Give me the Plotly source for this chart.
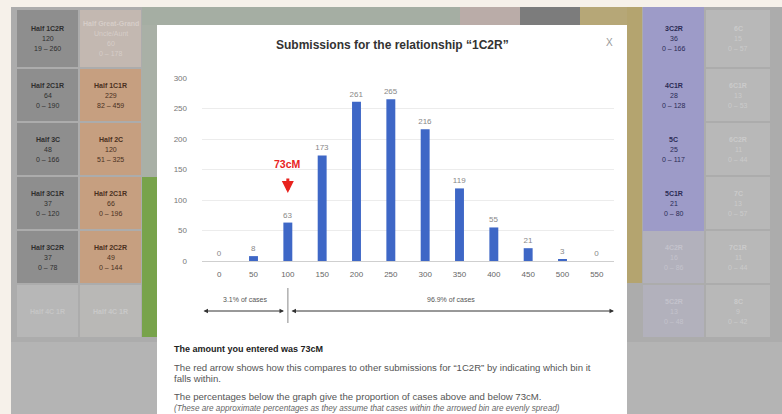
import plotly.graph_objects as go

# ---- data ----
bins = ["0", "50", "100", "150", "200", "250", "300", "350", "400", "450", "500", "550"]
counts = [0, 8, 63, 173, 261, 265, 216, 119, 55, 21, 3, 0]
entered_bin = "100"
entered_label = "73cM"
pct_below = "3.1% of cases"
pct_above = "96.9% of cases"
y_ticks = [0, 50, 100, 150, 200, 250, 300]

W, H = 782, 414
L, R, T, B = 202, 168, 78, 153
PW, PH = W - L - R, H - T - B


def px(x):
    return (x - L) / PW


def py(y):
    return (H - B - y) / PH


FONT = "Liberation Sans, Arial, sans-serif"
shapes = []
annots = []
ENTER_IDX = bins.index(entered_bin)


def rect(x0, y0, x1, y1, fill, line=None):
    shapes.append(dict(type="rect", xref="paper", yref="paper", layer="below",
                       x0=px(x0), x1=px(x1), y0=py(y1), y1=py(y0),
                       fillcolor=fill, line=dict(width=0 if line is None else 1,
                                                 color=line or fill)))


def text(x, y, s, size=8, color="#444", bold=False, italic=False, anchor="center"):
    if bold:
        s = "<b>" + s + "</b>"
    if italic:
        s = "<i>" + s + "</i>"
    annots.append(dict(x=px(x), y=py(y), xref="paper", yref="paper", text=s,
                       showarrow=False, xanchor=anchor, yanchor="middle",
                       font=dict(family=FONT, size=size, color=color)))


def tile(x0, y0, x1, y1, fill, lines, color):
    rect(x0, y0, x1, y1, fill)
    cx = (x0 + x1) / 2
    cy = (y0 + y1) / 2
    n = len(lines)
    for i, s in enumerate(lines):
        yy = cy + (i - (n - 1) / 2) * 10
        text(cx, yy, s, size=7, color=color, bold=(i == 0))


# ---- page background ----
rect(0, 0, W, H, "#f6f1ea")
rect(11, 7, W, H, "#acacac")
rect(11, 342, W, H, "#b4b4b4")

rows = [(10, 67), (69, 121), (123, 175), (177, 229), (231, 283), (285, 337)]
left_grey = [["Half 1C2R", "120", "19 – 260"], ["Half 2C1R", "64", "0 – 190"],
             ["Half 3C", "48", "0 – 166"], ["Half 3C1R", "37", "0 – 120"],
             ["Half 3C2R", "37", "0 – 78"]]
for (y0, y1), ln in zip(rows, left_grey):
    tile(17, y0, 78, y1, "#8e8e8e", ln, "#2f2f2f")
tile(17, 285, 78, 337, "#b7b7b7", ["Half 4C 1R"], "#c6c6c6")

tile(80, 10, 141, 67, "#c3b8b1", ["Half Great-Grand", "Uncle/Aunt", "60", "0 – 178"], "#d6cdc8")
orange = [["Half 1C1R", "229", "82 – 459"], ["Half 2C", "120", "51 – 325"],
          ["Half 2C1R", "66", "0 – 196"], ["Half 2C2R", "49", "0 – 144"]]
for (y0, y1), ln in zip(rows[1:5], orange):
    tile(80, y0, 141, y1, "#c69f80", ln, "#4a3020")
tile(80, 285, 141, 337, "#b9b8b6", ["Half 4C 1R"], "#c9c9c9")

rect(142, 7, 157, 177, "#a9b0a6")
rect(142, 177, 157, 337, "#78a34b")
rect(142, 7, 460, 25, "#a5aea3")
rect(460, 7, 520, 25, "#baaca8")
rect(520, 7, 580, 25, "#7c7c7c")
rect(580, 7, 642, 25, "#b6a777")
rect(627, 7, 642, 283, "#b4a46f")

purple = [["3C2R", "36", "0 – 166"], ["4C1R", "28", "0 – 128"],
          ["5C", "25", "0 – 117"], ["5C1R", "21", "0 – 80"]]
rect(643, 7, 704, 231, "#9d9bc8")
for (y0, y1), ln in zip(rows[:4], purple):
    tile(643, y0, 704, y1, "#9d9bc8", ln, "#2b2b55")
tile(643, 231, 704, 283, "#b2b1bc", ["4C2R", "16", "0 – 86"], "#c4c3cc")
tile(643, 285, 704, 337, "#b2b1bc", ["5C2R", "13", "0 – 48"], "#c4c3cc")
right_faint = [["6C", "15", "0 – 57"], ["6C1R", "13", "0 – 53"], ["6C2R", "11", "0 – 44"],
               ["7C", "13", "0 – 57"], ["7C1R", "11", "0 – 44"], ["8C", "9", "0 – 42"]]
for (y0, y1), ln in zip(rows, right_faint):
    tile(706, y0, 770, y1, "#b8b8b8", ln, "#cbcbcb")

# ---- modal ----
rect(157, 25, 627, 420, "#ffffff")
text(392, 45, "Submissions for the relationship “1C2R”", size=12, color="#333", bold=True)
text(609, 42, "X", size=10, color="#999")

# red marker
annots.append(dict(x=ENTER_IDX, y=py(164), xref="x", yref="paper", showarrow=False,
                   text="<b>" + entered_label + "</b>", yanchor="middle",
                   font=dict(family=FONT, size=10.5, color="#e8231e")))
annots.append(dict(x=ENTER_IDX, y=py(193), xref="x", yref="paper", text="",
                   showarrow=True, ax=0, ay=-16, arrowcolor="#e8231e",
                   arrowwidth=3, arrowhead=2, arrowsize=0.8))

# divider and range arrows
shapes.append(dict(type="line", xref="x", yref="paper", x0=ENTER_IDX, x1=ENTER_IDX,
                   y0=py(288), y1=py(323), line=dict(color="#b0b0b0", width=1.5)))
for xa, xb in [(202, 284), (290, 614)]:
    annots.append(dict(x=px(xb), y=py(311), xref="paper", yref="paper", text="",
                       showarrow=True, ax=xa - xb, ay=0,
                       arrowside="end+start", arrowhead=2, arrowsize=0.9, arrowwidth=1,
                       arrowcolor="#333"))
text(245, 299, pct_below, size=7, color="#555")
text(451, 299, pct_above, size=7, color="#555")

# explanatory text
text(172, 349, "The amount you entered was 73cM", size=9, color="#222", bold=True, anchor="left")
text(172, 367, "The red arrow shows how this compares to other submissions for “1C2R” by indicating which bin it",
     size=9.6, color="#555", anchor="left")
text(172, 378, "falls within.", size=9.6, color="#555", anchor="left")
text(172, 396, "The percentages below the graph give the proportion of cases above and below 73cM.",
     size=9.6, color="#555", anchor="left")
text(172, 408, "(These are approximate percentages as they assume that cases within the arrowed bin are evenly spread)",
     size=8.2, color="#666", italic=True, anchor="left")

fig = go.Figure(go.Bar(
    x=bins, y=counts, marker=dict(color="#3e67c6", line=dict(width=0)),
    text=[str(v) for v in counts], textposition="outside", cliponaxis=False,
    constraintext="none",
    textfont=dict(family=FONT, size=8, color="#888"), hoverinfo="skip"))

fig.update_layout(
    width=W, height=H, margin=dict(l=L, r=R, t=T, b=B, pad=0, autoexpand=False),
    paper_bgcolor="#f6f1ea", plot_bgcolor="rgba(0,0,0,0)",
    bargap=0.74, showlegend=False, shapes=shapes, annotations=annots,
    font=dict(family=FONT),
    xaxis=dict(type="category", range=[-0.5, len(bins) - 0.5], automargin=False,
               showgrid=False, zeroline=False, showline=False, tickangle=0,
               ticks="", ticklabelstandoff=7,
               tickfont=dict(family=FONT, size=8, color="#666")),
    yaxis=dict(range=[0, 300], tickvals=y_ticks, showgrid=True, gridcolor="#ececec",
               automargin=False,
               gridwidth=1, zeroline=True, zerolinecolor="#cfcfcf", zerolinewidth=1,
               showline=False, ticks="", ticklabelstandoff=14,
               tickfont=dict(family=FONT, size=8, color="#777")),
)

fig.write_html("out.html", config={"displayModeBar": False},
               post_script="document.body.style.margin='0';document.body.style.overflow='hidden';")
